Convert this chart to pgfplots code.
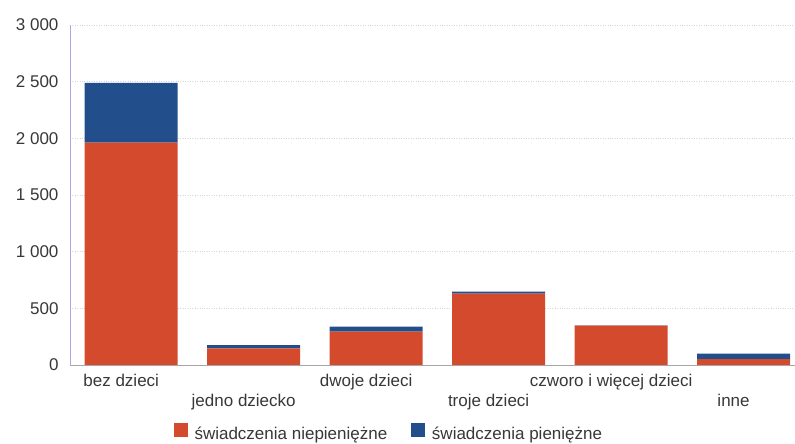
\documentclass[border=0pt]{standalone}
\usepackage{pgfplots}
\pgfplotsset{compat=1.18}
\usepackage{fontspec}
\setmainfont{Liberation Sans}
\definecolor{cred}{HTML}{D44A2C}
\definecolor{cblue}{HTML}{224E8B}
\definecolor{gridc}{HTML}{D4D4DE}
\begin{document}
\begin{tikzpicture}
\begin{axis}[
  name=ax,
  scale only axis,
  width=725pt, height=340pt,
  xmin=-0.5, xmax=5.42,
  ymin=0, ymax=3000,
  ybar stacked, bar width=93pt,
  xtick={0,1,2,3,4,5},
  xticklabels={bez dzieci,{\strut\\jedno dziecko},dwoje dzieci,{\strut\\troje dzieci},czworo i więcej dzieci,{\strut\\inne}},
  xticklabel style={align=center, font=\fontsize{17}{19}\selectfont, text=black!78, yshift=-6pt, xshift=-10pt},
  ytick={0,500,1000,1500,2000,2500,3000},
  yticklabels={0,500,1 000,1 500,2 000,2 500,3 000},
  yticklabel style={font=\fontsize{17}{19}\selectfont, text=black!78, xshift=-8pt},
  major tick length=0pt,
  ymajorgrids, grid style={gridc, dotted, line width=0.7pt},
  axis x line*=bottom, axis y line*=left,
  x axis line style={draw=black!35, line width=0.9pt},
  y axis line style={draw=gridc!80!blue, line width=0.7pt},
  legend style={at={(0.44,-0.2)}, anchor=center, draw=none, legend columns=2,
    font=\fontsize{17}{19}\selectfont, text=black!78, inner sep=0pt,
    /tikz/every odd column/.append style={column sep=5pt},
    /tikz/every even column/.append style={column sep=22pt}},
  legend image code/.code={\fill[#1] (0cm,-0.1cm) rectangle (0.48cm,0.38cm);},
]
\addplot[fill=cred, draw=none] coordinates {(0,1962) (1,147) (2,294) (3,629) (4,348) (5,52)};
\addplot[fill=cblue, draw=none] coordinates {(0,528) (1,29) (2,44) (3,18) (4,2) (5,48)};
\legend{świadczenia niepieniężne, świadczenia pieniężne}
\end{axis}
\pgfresetboundingbox
\path[use as bounding box] ([xshift=-70pt,yshift=-79pt]ax.south west) rectangle ([yshift=25pt]ax.north east);
\end{tikzpicture}
\end{document}
